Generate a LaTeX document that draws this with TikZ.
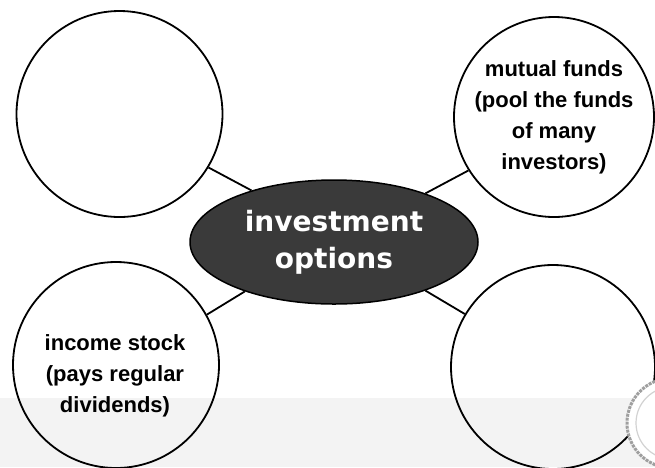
\documentclass[tikz,border=0pt]{standalone}
\usepackage{fontspec}
\setmainfont{Liberation Sans}
\newfontfamily\hubfont{DejaVu Sans}
\usetikzlibrary{shapes.geometric}
\definecolor{hubgray}{HTML}{3A3A3A}
\definecolor{bandgray}{HTML}{F3F3F3}
\begin{document}
\begin{tikzpicture}[x=1pt,y=-1pt,
  bubble/.style={circle, draw=black, line width=1.8pt, minimum size=#1, inner sep=0pt,
    align=center, font=\fontsize{22}{31}\selectfont\bfseries},
  bubbletext/.style={inner sep=0pt, align=center, font=\fontsize{22}{31}\selectfont\bfseries},
  hub/.style={ellipse, draw=black, line width=1.5pt, fill=hubgray, minimum width=288pt,
    minimum height=124pt, inner sep=0pt, align=center, text=white,
    font=\hubfont\fontsize{28}{37}\selectfont\bfseries},
  link/.style={line width=1.8pt}]
\useasboundingbox (0,0) rectangle (655,467);
\fill[bandgray] (0,398) rectangle (655,467);

\node[hub] (hub) at (334,242) {investment\\options};

\node[bubble=206pt] (tl) at (119.5,114) {};
\node[bubble=200pt] (tr) at (554,117) {mutual funds\\(pool the funds\\of many\\investors)};
\node[bubble=206pt] (bl) at (116,365) {};
\node[bubbletext] (bltext) at (115,376) {income stock\\(pays regular\\dividends)};
\node[bubble=204pt] (br) at (553,367) {};

\draw[link] (tl.-31) -- (hub.148);
\draw[link] (tr.-148.6) -- (hub.28.3);
\draw[link] (bl.29.7) -- (hub.-151.8);
\draw[link] (br.149.4) -- (hub.-28.3);

\begin{scope}
\clip (0,0) rectangle (655,467);
\node[circle, minimum size=90pt, fill=white, draw=gray!75, densely dotted, line width=3pt] (coin) at (672,423) {};
\draw[gray!35, line width=1.2pt] (coin.center) circle (36pt);
\end{scope}
\end{tikzpicture}
\end{document}
